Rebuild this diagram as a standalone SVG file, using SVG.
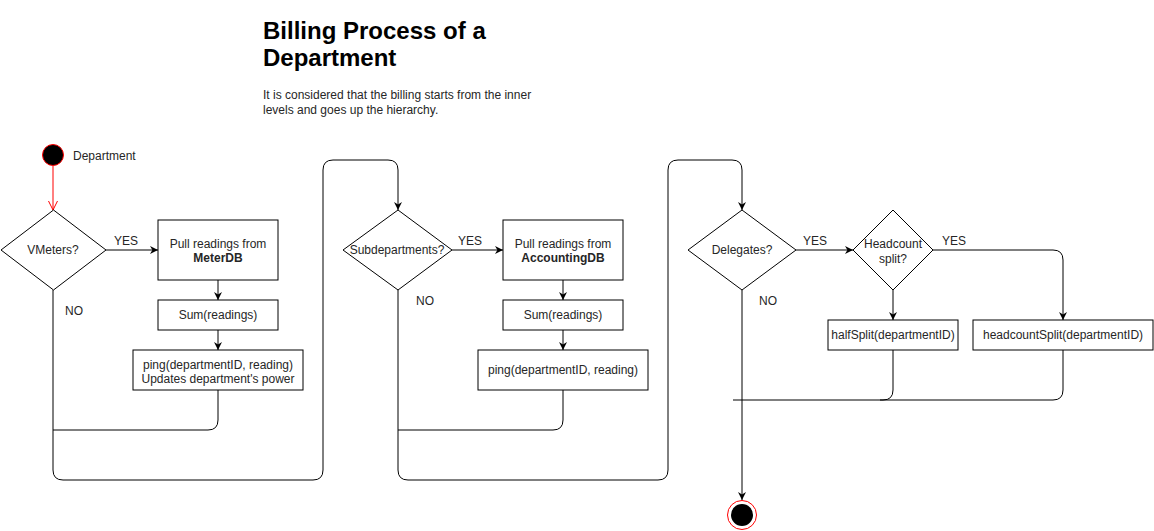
<svg xmlns="http://www.w3.org/2000/svg" width="1154" height="531" viewBox="0 0 1154 531">
<style>
text{font-family:"Liberation Sans",Arial,Helvetica,sans-serif;font-size:12px;fill:#262626}
.c{text-anchor:middle}
.b{font-weight:bold}
.shape{fill:#fff;stroke:#000;stroke-width:1}
.edge{fill:none;stroke:#000;stroke-width:1}
.title{font-size:24px;font-weight:bold;fill:#000}
</style>
<defs>
<marker id="arr" viewBox="0 0 10 10" refX="10" refY="5" markerWidth="8" markerHeight="8" markerUnits="userSpaceOnUse" orient="auto">
<path d="M0,0 L10,5 L0,10 L3,5 z" fill="#000"/>
</marker>
<marker id="open" viewBox="0 0 10 10" refX="10" refY="5" markerWidth="10" markerHeight="10" markerUnits="userSpaceOnUse" orient="auto">
<path d="M1,0.5 L10,5 L1,9.5" fill="none" stroke="#f00" stroke-width="1"/>
</marker>
</defs>
<rect width="1154" height="531" fill="#fff"/>

<g id="title">
<text class="title" x="263" y="39">Billing Process of a</text>
<text class="title" x="263" y="66">Department</text>
<text x="263" y="99">It is considered that the billing starts from the inner</text>
<text x="263" y="114">levels and goes up the hierarchy.</text>
</g>

<g id="connectors">
<path class="edge" d="M53,166 V210" style="stroke:#f00" marker-end="url(#open)"/>
<path class="edge" d="M106,250 H158" marker-end="url(#arr)"/>
<path class="edge" d="M218,280 V300" marker-end="url(#arr)"/>
<path class="edge" d="M218,330 V350" marker-end="url(#arr)"/>
<path class="edge" d="M218,390 V420 Q218,430 208,430 H53"/>
<path class="edge" d="M53,290 V470 Q53,480 63,480 H313 Q323,480 323,470 V170 Q323,160 333,160 H388 Q398,160 398,170 V210" marker-end="url(#arr)"/>
<path class="edge" d="M452,250 H503" marker-end="url(#arr)"/>
<path class="edge" d="M563,280 V300" marker-end="url(#arr)"/>
<path class="edge" d="M563,330 V350" marker-end="url(#arr)"/>
<path class="edge" d="M563,390 V420 Q563,430 553,430 H398"/>
<path class="edge" d="M398,290 V470 Q398,480 408,480 H658 Q668,480 668,470 V170 Q668,160 678,160 H732 Q742,160 742,170 V210" marker-end="url(#arr)"/>
<path class="edge" d="M796,250 H853" marker-end="url(#arr)"/>
<path class="edge" d="M893,290 V320" marker-end="url(#arr)"/>
<path class="edge" d="M933,250 H1053 Q1063,250 1063,260 V320" marker-end="url(#arr)"/>
<path class="edge" d="M893,350 V390 Q893,400 883,400 H733"/>
<path class="edge" d="M1063,350 V390 Q1063,400 1053,400 H880"/>
<path class="edge" d="M742,290 V500" marker-end="url(#arr)"/>
<text class="c" x="126" y="245">YES</text>
<text class="c" x="74" y="315">NO</text>
<text class="c" x="470" y="245">YES</text>
<text class="c" x="425" y="305">NO</text>
<text class="c" x="815" y="245">YES</text>
<text class="c" x="768" y="305">NO</text>
<text class="c" x="954" y="245">YES</text>
</g>

<g id="start">
<circle cx="53" cy="155" r="10.5" fill="#000" stroke="#f00" stroke-width="1"/>
<text x="73" y="160">Department</text>
</g>

<g id="vmeters">
<polygon class="shape" points="53.5,210 106,250 53.5,290 1,250"/>
<text class="c" x="53" y="254">VMeters?</text>
</g>
<g id="pullMeter">
<rect class="shape" x="158" y="220" width="120" height="60"/>
<text class="c" x="218" y="248">Pull readings from</text>
<text class="c b" x="218" y="262">MeterDB</text>
</g>
<g id="sum1">
<rect class="shape" x="158" y="300" width="120" height="30"/>
<text class="c" x="218" y="319">Sum(readings)</text>
</g>
<g id="ping1">
<rect class="shape" x="133" y="350" width="170" height="40"/>
<text class="c" x="218" y="369">ping(departmentID, reading)</text>
<text class="c" x="218" y="383">Updates department's power</text>
</g>

<g id="subdepartments">
<polygon class="shape" points="398,210 452,250 398,290 343,250"/>
<text class="c" x="397" y="254">Subdepartments?</text>
</g>
<g id="pullAccounting">
<rect class="shape" x="503" y="220" width="120" height="60"/>
<text class="c" x="563" y="248">Pull readings from</text>
<text class="c b" x="563" y="262">AccountingDB</text>
</g>
<g id="sum2">
<rect class="shape" x="503" y="300" width="120" height="30"/>
<text class="c" x="563" y="319">Sum(readings)</text>
</g>
<g id="ping2">
<rect class="shape" x="478" y="350" width="170" height="40"/>
<text class="c" x="563" y="374">ping(departmentID, reading)</text>
</g>

<g id="delegates">
<polygon class="shape" points="742,210 796,250 742,290 688,250"/>
<text class="c" x="742" y="254">Delegates?</text>
</g>
<g id="headcount">
<polygon class="shape" points="893,210 933,250 893,290 853,250"/>
<text class="c" x="893" y="248">Headcount</text>
<text class="c" x="893" y="263">split?</text>
</g>
<g id="halfSplit">
<rect class="shape" x="828" y="320" width="130" height="30"/>
<text class="c" x="893" y="339">halfSplit(departmentID)</text>
</g>
<g id="headcountSplit">
<rect class="shape" x="973" y="320" width="180" height="30"/>
<text class="c" x="1063" y="339">headcountSplit(departmentID)</text>
</g>

<g id="end">
<circle cx="742" cy="515" r="14.5" fill="#fff" stroke="#f00" stroke-width="1"/>
<circle cx="742" cy="515" r="11" fill="#000"/>
</g>
</svg>
